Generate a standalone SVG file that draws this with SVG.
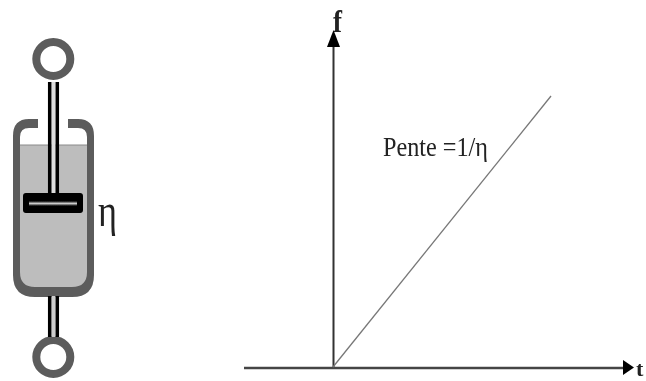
<svg xmlns="http://www.w3.org/2000/svg" width="646" height="381" viewBox="0 0 646 381">
<defs>
<filter id="soft" x="-5%" y="-5%" width="110%" height="110%"><feGaussianBlur stdDeviation="0.6"/></filter>
<linearGradient id="shine" x1="0" y1="0" x2="0" y2="1"><stop offset="0" stop-color="#000"/><stop offset="0.5" stop-color="#ccc"/><stop offset="1" stop-color="#000"/></linearGradient>
</defs>
<style>
.t{font-family:"Liberation Serif",serif;fill:#222}
.g{fill:none;stroke:#5c5c5c}
.r{fill:none;stroke:#000;stroke-width:3.500}
</style>
<rect width="646" height="381" fill="#fff"/>
<g id="dashpot" filter="url(#soft)">
<path d="M18 145H89V279Q89 291 77 291H30Q18 291 18 279Z" fill="#bdbdbd"/>
<path d="M38 119H29Q13 119 13 136V275Q13 297 35 297H72Q94 297 94 275V136Q94 119 78 119H68V128H78Q87 128 87 137V272Q87 287 72 287H35Q20 287 20 272V137Q20 128 29 128H38Z" fill="#5c5c5c"/>
<line x1="20" y1="145" x2="87" y2="145" stroke="#8a8a8a" stroke-width="1"/>
<circle cx="53.300" cy="59" r="17" class="g" stroke-width="8"/>
<circle cx="53.300" cy="357" r="17" class="g" stroke-width="8"/>
<path d="M53.500 82V196" stroke="#ddd" stroke-width="4" fill="none"/>
<path d="M49.700 82V196M57.300 82V196" class="r"/>
<path d="M53.500 296V337" stroke="#ccc" stroke-width="4" fill="none"/>
<path d="M49.700 296V337M57.300 296V337" class="r"/>
<rect x="23" y="193" width="60" height="20" rx="3" fill="#000"/>
<rect x="29" y="201" width="48" height="5" fill="url(#shine)"/>
<text x="98" y="226" class="t" font-size="46" textLength="19" lengthAdjust="spacingAndGlyphs">η</text>
</g>
<g id="connectors" filter="url(#soft)">
<line x1="333.500" y1="40" x2="333.500" y2="367" stroke="#333" stroke-width="2"/>
<polygon points="333.500,30 327,47 340,47" fill="#000"/>
<line x1="244" y1="368" x2="625" y2="368" stroke="#444" stroke-width="2.500"/>
<polygon points="634,367.500 623,360 623,375" fill="#000"/>
<line x1="333" y1="367" x2="551" y2="96" stroke="#777" stroke-width="1.300"/>
</g>
<g id="labels" filter="url(#soft)">
<text x="333" y="32" class="t" font-size="32" font-weight="bold" textLength="9" lengthAdjust="spacingAndGlyphs">f</text>
<text x="383" y="156" class="t" font-size="28" textLength="105" lengthAdjust="spacingAndGlyphs">Pente =1/η</text>
<text x="636" y="376" class="t" font-size="22" font-weight="bold">t</text>
</g>
</svg>
